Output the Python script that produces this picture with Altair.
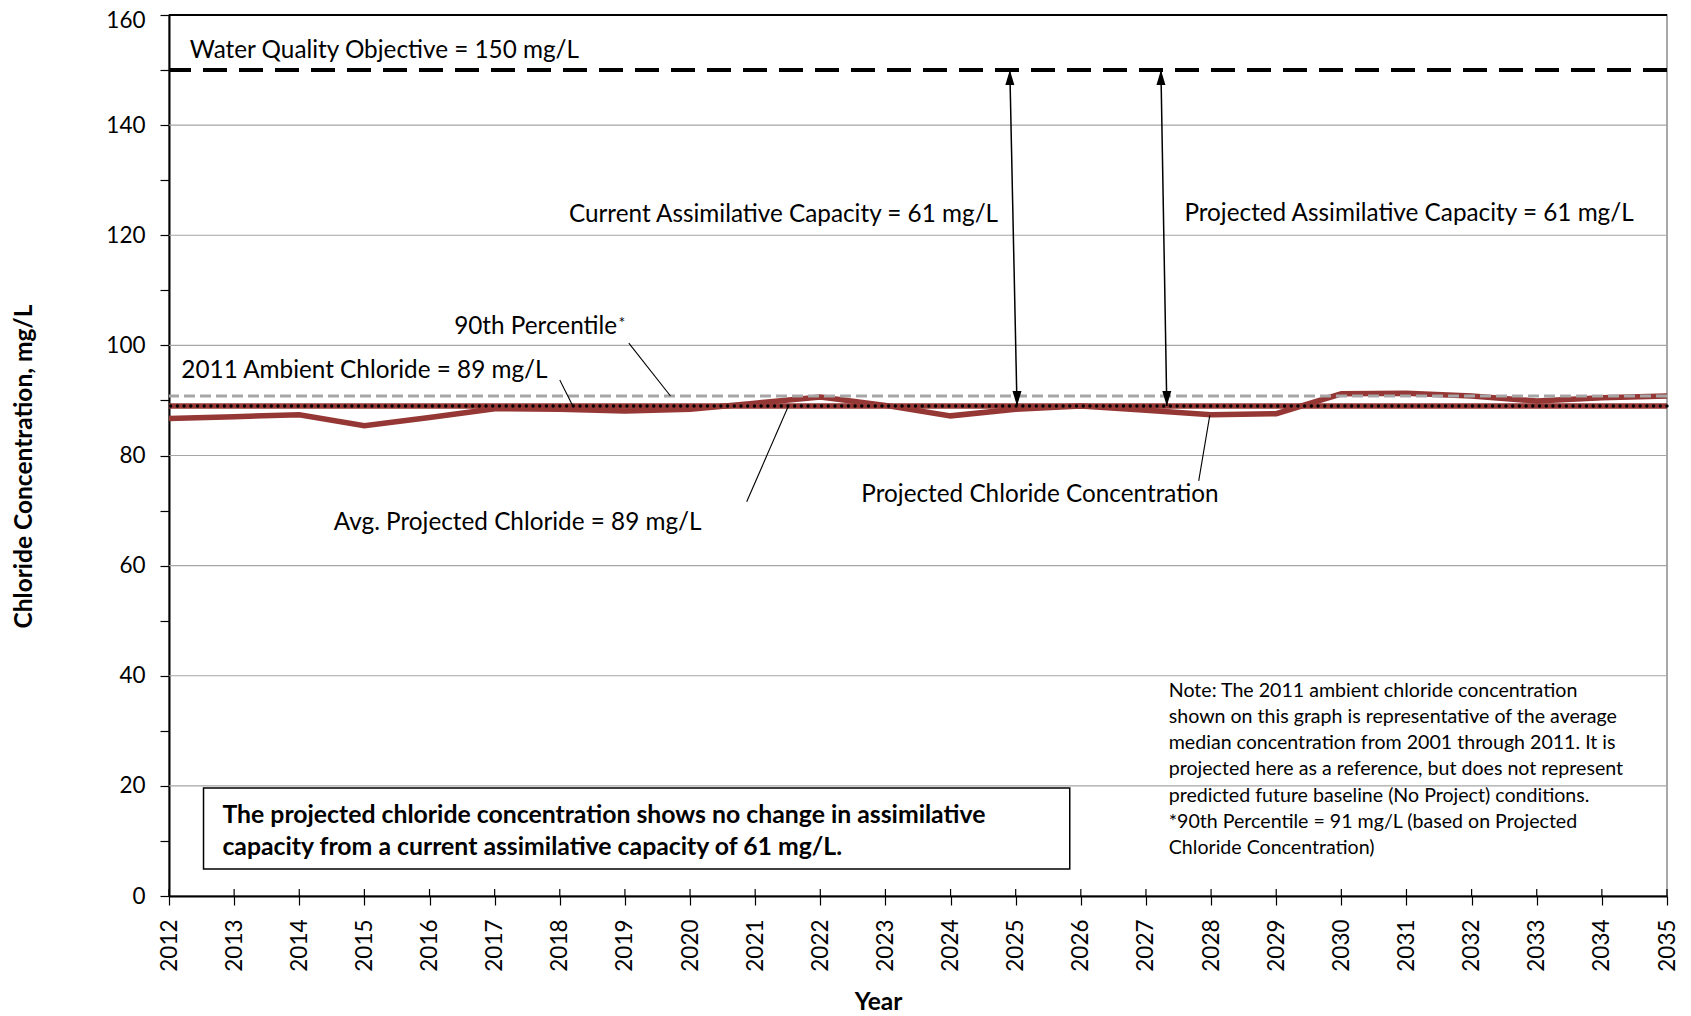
import altair as alt
import pandas as pd

# ---- data ----
years = list(range(2012, 2036))
projected = [86.7, 87.05, 87.4, 85.4, 86.9, 88.5, 88.4, 88.1, 88.4, 89.5, 90.6, 89.1,
             87.2, 88.4, 89.0, 88.2, 87.4, 87.6, 91.2, 91.3, 90.8, 89.9, 90.5, 90.8]
wqo = 150
ambient_2011 = 89
avg_projected = 89
p90 = 90.8
grid_values = [20, 40, 60, 80, 100, 120, 140]
y_tick_values = list(range(0, 161, 10))

note_lines = [
    "Note: The 2011 ambient chloride concentration",
    "shown on this graph is representative of the average",
    "median concentration from 2001 through 2011.  It is",
    "projected here as a reference, but does not represent",
    "predicted future baseline (No Project) conditions.",
    "*90th Percentile = 91 mg/L (based on Projected",
    "Chloride Concentration)",
]
box_lines = [
    "The projected chloride concentration shows no change in assimilative",
    "capacity from a current assimilative capacity of 61 mg/L.",
]

W, H = 1498, 881
FONT = "Lato"
RED = "#953735"
ANN = 24.3

df = pd.DataFrame({"Year": years, "Projected": projected})
one = pd.DataFrame({"a": [0]})

x_scale = alt.Scale(domain=[2012, 2035], nice=False, zero=False)
y_scale = alt.Scale(domain=[0, 160], nice=False)

x_axis = alt.Axis(values=years, format="d", labelAngle=-90, labelFontSize=22.5, labelFont=FONT,
                  labelColor="black", labelFlush=False, labelOverlap=False, labelPadding=14,
                  tickSize=9, tickColor="black", tickWidth=1.2, domainColor="black", domainWidth=2,
                  grid=False, title="Year", titleFont=FONT, titleFontSize=24.5, titleFontWeight="bold",
                  titleColor="black", titleX=709, titleY=106, titleAlign="center",
                  titleBaseline="middle", titleAngle=0)
y_axis = alt.Axis(values=y_tick_values, labelExpr="datum.value % 20 == 0 ? datum.label : ''",
                  labelFontSize=22.5, labelFont=FONT, labelColor="black", labelPadding=15,
                  labelOverlap=False, labelFlush=False,
                  labelOffset={"condition": {"test": "datum.value >= 160", "value": 5}, "value": 0},
                  tickSize=9, tickColor="black", tickWidth=1.2, domainColor="black", domainWidth=2,
                  grid=False, title="Chloride Concentration, mg/L", titleFont=FONT, titleFontSize=24.5,
                  titleFontWeight="bold", titleColor="black", titleX=-145, titleY=451,
                  titleAlign="center", titleBaseline="middle", titleAngle=-90)


def xd(v):
    return alt.XDatum(v, type="quantitative", scale=x_scale, axis=x_axis)


def yd(v):
    return alt.YDatum(v, type="quantitative", scale=y_scale, axis=y_axis)


def label(txt, x, y, size=ANN, weight="normal", align="left", baseline="middle", lh=None):
    kw = dict(text=txt, font=FONT, fontSize=size, fontWeight=weight, align=align,
              baseline=baseline, color="black")
    if lh:
        kw["lineHeight"] = lh
    return alt.Chart(one).mark_text(**kw).encode(x=xd(x), y=yd(y))


def leader(x1, y1, x2, y2, width=1.1):
    return alt.Chart(one).mark_rule(color="black", strokeWidth=width).encode(
        x=xd(x1), y=yd(y1), x2=alt.X2Datum(x2), y2=alt.Y2Datum(y2))


def hline(v, **kw):
    return alt.Chart(one).mark_rule(**kw).encode(y=yd(v))


grid = alt.Chart(pd.DataFrame({"v": grid_values})).mark_rule(color="#A6A6A6", strokeWidth=1.2).encode(
    y=alt.Y("v:Q", scale=y_scale, axis=y_axis))

inner_ticks = alt.Chart(df).mark_rule(color="black", strokeWidth=1.2).encode(
    x=alt.X("Year:Q", scale=x_scale, axis=x_axis), y=alt.value(H), y2=alt.value(H - 7))

avg_line = hline(avg_projected, color=RED, strokeWidth=5.5)

proj_line = alt.Chart(df).mark_line(color=RED, strokeWidth=5.5).encode(
    x=alt.X("Year:Q", scale=x_scale, axis=x_axis),
    y=alt.Y("Projected:Q", scale=y_scale, axis=y_axis))

p90_line = hline(p90, color="#A6A6A6", strokeWidth=3, strokeDash=[11, 5])
amb_line = hline(ambient_2011, color="black", strokeWidth=3.4, strokeDash=[0.01, 6.7], strokeCap="round")
wqo_line = hline(wqo, color="black", strokeWidth=4, strokeDash=[24, 12])
top_line = hline(160, color="black", strokeWidth=2)

# note box
box = alt.Chart(one).mark_rect(fill="white", stroke="black", strokeWidth=1.5).encode(
    x=xd(2012.53), x2=alt.X2Datum(2025.83), y=yd(19.6), y2=alt.Y2Datum(4.9))

# double arrows
up_head = "M0,0 L-0.9,3 L0.9,3 Z"
down_head = "M0,0 L-0.9,-3 L0.9,-3 Z"


def arrow(xt, xb, yt, yb):
    shaft = leader(xt, yt, xb, yb, width=1.5)
    top = alt.Chart(one).mark_point(shape=up_head, size=100, filled=True, color="black", opacity=1,
                                    strokeWidth=0).encode(x=xd(xt), y=yd(yt))
    bot = alt.Chart(one).mark_point(shape=down_head, size=100, filled=True, color="black", opacity=1,
                                    strokeWidth=0).encode(x=xd(xb), y=yd(yb))
    return [shaft, top, bot]


layers = [
    grid, inner_ticks, avg_line, proj_line, p90_line, amb_line, wqo_line, top_line,
    *arrow(2024.91, 2025.02, wqo, ambient_2011),
    *arrow(2027.23, 2027.32, wqo, ambient_2011),
    leader(2019.06, 100.4, 2019.70, 90.8),
    leader(2018.0, 93.7, 2018.2, 89.0),
    leader(2020.87, 71.6, 2021.51, 89.0),
    leader(2027.81, 75.4, 2027.98, 87.3),
    label("Water Quality Objective = 150 mg/L", 2012.32, 153.5),
    label("Current Assimilative Capacity = 61 mg/L", 2018.14, 123.6),
    label("Projected Assimilative Capacity = 61 mg/L", 2027.59, 123.8),
    label("90th Percentile", 2018.88, 103.4, align="right"),
    label("*", 2018.9, 104.0, size=16),
    label("2011 Ambient Chloride = 89 mg/L", 2012.19, 95.3),
    label("Avg. Projected Chloride = 89 mg/L", 2014.53, 67.7),
    label("Projected Chloride Concentration", 2022.63, 72.8),
    label(note_lines, 2027.35, 37.2, size=19.6, lh=26.1),
    box,
    label(box_lines, 2012.82, 14.6, size=24.8, weight="bold", lh=32.5),
]

chart = alt.layer(*layers).properties(
    width=W, height=H,
    autosize=alt.AutoSizeParams(type="none"),
    padding={"left": 161, "top": 7, "right": 12, "bottom": 117},
    background="white",
).configure_view(stroke="#8C8C8C", strokeWidth=1.5)

chart.save("out.html", embed_options={"renderer": "svg", "actions": False})
